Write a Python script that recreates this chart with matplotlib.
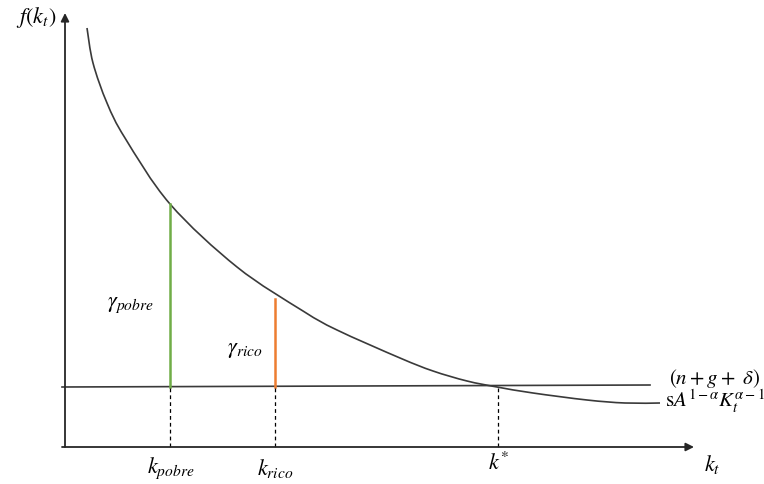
import matplotlib
matplotlib.use("Agg")
import matplotlib.pyplot as plt
from matplotlib.path import Path
from matplotlib.patches import PathPatch

plt.rcParams['mathtext.fontset'] = 'stix'

# curve sA^{1-a}K^{a-1} (pixel coords)
curve_x = [87, 93, 107, 125, 170, 237, 303, 337, 400, 433, 467, 497, 533, 587, 625, 660]
curve_y = [28, 63, 103, 138, 204, 267, 311, 330, 358, 371, 381, 387, 393, 400, 403, 403]

# (n+g+delta) line
line_x = [62, 650]
line_y = [387, 385]

# vertical gaps
k_positions = [170, 275, 498]
k_labels = [r'$k_{pobre}$', r'$k_{rico}$', r'$k^{*}$']
gap_x = [170, 275]
gap_top = [204, 299]
gap_colors = ['#70AD47', '#ED7D31']
gap_labels = [r'$\gamma_{pobre}$', r'$\gamma_{rico}$']

fig = plt.figure(figsize=(7.64, 4.84), dpi=100)
ax = fig.add_axes([0, 0, 1, 1])
ax.set_xlim(0, 764)
ax.set_ylim(484, 0)
ax.axis('off')

axis_y = 447
axis_x = 65

# axes with arrows
ax.annotate('', xy=(694, axis_y), xytext=(62, axis_y),
            arrowprops=dict(arrowstyle='-|>', color='#262626', lw=1.3,
                            mutation_scale=12, shrinkA=0, shrinkB=0))
ax.annotate('', xy=(axis_x, 13), xytext=(axis_x, axis_y),
            arrowprops=dict(arrowstyle='-|>', color='#262626', lw=1.3,
                            mutation_scale=12, shrinkA=0, shrinkB=0))

# smooth curve through the read points (Catmull-Rom rendered as Bezier path)
pts = list(zip(curve_x, curve_y))
verts = [pts[0]]
codes = [Path.MOVETO]
n = len(pts)
for i in range(n - 1):
    p0 = pts[i - 1] if i > 0 else pts[i]
    p1 = pts[i]
    p2 = pts[i + 1]
    p3 = pts[i + 2] if i + 2 < n else pts[i + 1]
    c1 = (p1[0] + (p2[0] - p0[0]) / 6.0, p1[1] + (p2[1] - p0[1]) / 6.0)
    c2 = (p2[0] - (p3[0] - p1[0]) / 6.0, p2[1] - (p3[1] - p1[1]) / 6.0)
    verts += [c1, c2, p2]
    codes += [Path.CURVE4, Path.CURVE4, Path.CURVE4]
ax.add_patch(PathPatch(Path(verts, codes), fill=False, edgecolor='#3a3a3a', lw=1.2))

ax.plot(line_x, line_y, color='#3a3a3a', lw=1.2)

# gaps
for x, top, c in zip(gap_x, gap_top, gap_colors):
    ax.plot([x, x], [top, 387], color=c, lw=1.8)

# dashed drops
for x in k_positions:
    ax.plot([x, x], [388, axis_y], color='black', lw=0.9, ls=(0, (3, 2.5)))

fs = 16
ax.text(36, 18, r'$f(k_t)$', fontsize=fs, ha='center', va='center')
ax.text(712, 464, r'$k_t$', fontsize=fs, ha='center', va='center')
ax.text(171, 468, k_labels[0], fontsize=fs, ha='center', va='center')
ax.text(275, 468, k_labels[1], fontsize=fs, ha='center', va='center')
ax.text(499, 463, k_labels[2], fontsize=fs, ha='center', va='center')
ax.text(130, 305, gap_labels[0], fontsize=fs, ha='center', va='center')
ax.text(245, 350, gap_labels[1], fontsize=fs, ha='center', va='center')
ax.text(760, 378, r'$(n + g +\ \delta)$', fontsize=15, ha='right', va='center')
ax.text(665, 401, r'$\mathrm{s}A^{1-\alpha}K_t^{\alpha-1}$', fontsize=15, ha='left', va='center')

fig.savefig('out.png', dpi=100)
